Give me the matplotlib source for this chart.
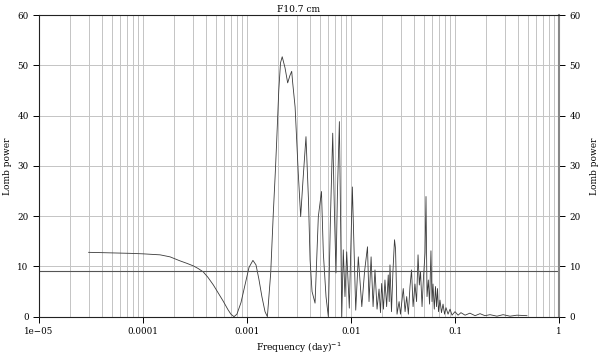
import numpy as np
import matplotlib
matplotlib.use('Agg')
import matplotlib.pyplot as plt
from matplotlib.ticker import LogLocator, FixedLocator, FixedFormatter, NullFormatter

plt.rcParams['font.family'] = 'DejaVu Serif'

# Periodograma de Lomb (frequencia em 1/dia, potencia)
freq = [3.0e-5, 4.82e-5, 7.5e-5, 1.0e-4, 1.46e-4, 1.82e-4, 2.27e-4, 2.65e-4, 3.05e-4, 3.38e-4,
        3.8e-4, 4.22e-4, 4.75e-4, 5.26e-4, 5.9e-4, 6.56e-4, 7.0e-4, 7.5e-4, 8.0e-4, 8.75e-4,
        9.57e-4, 1.045e-3, 1.14e-3, 1.22e-3, 1.30e-3, 1.39e-3, 1.49e-3, 1.57e-3, 1.69e-3, 1.79e-3,
        1.87e-3, 1.93e-3, 2.02e-3, 2.10e-3, 2.18e-3, 2.32e-3, 2.46e-3, 2.59e-3, 2.69e-3, 2.75e-3,
        2.90e-3, 3.11e-3, 3.28e-3, 3.45e-3, 3.69e-3, 3.90e-3, 4.04e-3, 4.22e-3, 4.51e-3, 4.85e-3,
        5.2e-3, 5.42e-3, 5.75e-3, 6.05e-3, 6.35e-3, 6.67e-3, 6.94e-3, 7.17e-3, 7.41e-3, 7.73e-3,
        7.93e-3, 8.15e-3, 8.43e-3, 8.75e-3, 9.09e-3, 9.63e-3, 1.03e-2, 1.11e-2, 1.175e-2, 1.27e-2,
        1.35e-2, 1.44e-2, 1.49e-2, 1.56e-2, 1.63e-2, 1.70e-2, 1.78e-2, 1.86e-2, 1.92e-2, 1.97e-2,
        2.05e-2, 2.12e-2, 2.20e-2, 2.28e-2, 2.33e-2, 2.37e-2, 2.45e-2, 2.53e-2, 2.62e-2, 2.68e-2,
        2.77e-2, 2.90e-2, 2.99e-2, 3.18e-2, 3.31e-2, 3.43e-2, 3.56e-2, 3.69e-2, 3.82e-2, 3.95e-2,
        4.12e-2, 4.27e-2, 4.41e-2, 4.54e-2, 4.66e-2, 4.82e-2, 4.98e-2, 5.15e-2, 5.26e-2, 5.38e-2,
        5.54e-2, 5.69e-2, 5.87e-2, 6.01e-2, 6.14e-2, 6.32e-2, 6.49e-2, 6.64e-2, 6.79e-2, 6.94e-2,
        7.17e-2, 7.41e-2, 7.67e-2, 7.93e-2, 8.19e-2, 8.57e-2, 8.96e-2, 9.36e-2, 0.100, 0.107,
        0.114, 0.125, 0.139, 0.156, 0.174, 0.194, 0.217, 0.253, 0.290, 0.338,
        0.394, 0.492]
potencia = [12.8, 12.7, 12.6, 12.5, 12.3, 11.9, 11.1, 10.6, 10.1, 9.6,
            8.9, 7.8, 6.3, 4.8, 3.1, 1.4, 0.5, 0.0, 0.5, 2.8,
            6.3, 9.8, 11.2, 10.3, 7.5, 4.0, 1.0, 0.0, 8.7, 20.6,
            28.6, 35.0, 45.0, 50.5, 51.7, 49.5, 46.5, 48.0, 48.8, 46.5,
            41.7, 28.6, 19.9, 27.0, 35.8, 23.2, 11.3, 5.0, 2.7, 19.9,
            24.9, 12.6, 4.0, 0.0, 20.0, 36.5, 20.0, 8.7, 25.0, 38.8,
            20.0, 0.0, 13.3, 4.0, 12.9, 1.7, 25.8, 1.3, 11.9, 2.0,
            9.0, 13.9, 3.0, 11.9, 2.0, 9.3, 1.5, 5.5, 0.8, 6.6,
            1.5, 7.3, 2.0, 8.3, 3.0, 10.3, 1.0, 9.0, 15.3, 13.5,
            0.5, 3.0, 0.5, 5.6, 1.0, 4.0, 0.5, 6.0, 9.3, 2.0,
            6.5, 3.0, 12.3, 6.3, 9.0, 2.0, 8.0, 12.7, 23.9, 4.0,
            7.3, 2.5, 13.1, 3.0, 6.5, 1.5, 6.0, 2.0, 5.6, 1.0,
            3.3, 0.8, 2.5, 0.5, 1.8, 0.5, 1.5, 0.3, 1.0, 0.3,
            0.8, 0.3, 0.7, 0.2, 0.6, 0.2, 0.4, 0.1, 0.4, 0.1,
            0.3, 0.2]

nivel_signif = 9.1
xticks = [1e-5, 1e-4, 1e-3, 1e-2, 1e-1, 1]
xtick_labels = ['1e\u221205', '0.0001', '0.001', '0.01', '0.1', '1']
yticks = [0, 10, 20, 30, 40, 50, 60]

fig = plt.figure(figsize=(6, 3.54), dpi=100)
ax = fig.add_axes([0.065, 0.1054, 0.8667, 0.8522])

ax.set_xscale('log')
ax.set_xlim(1e-5, 1)
ax.set_ylim(0, 60)

# grade
ax.xaxis.set_major_locator(FixedLocator(xticks))
ax.xaxis.set_major_formatter(FixedFormatter(xtick_labels))
ax.xaxis.set_minor_locator(LogLocator(base=10, subs=np.arange(2, 10)))
ax.xaxis.set_minor_formatter(NullFormatter())
ax.set_yticks(yticks)
ax.grid(True, which='both', axis='x', color='#c4c4c4', linewidth=0.7)
ax.grid(True, which='major', axis='y', color='#c4c4c4', linewidth=0.7)
ax.set_axisbelow(True)

ax.plot(freq, potencia, color='#3a3a3a', linewidth=0.6)
ax.axhline(nivel_signif, color='#555555', linewidth=0.8)

for lado in ['left', 'bottom', 'top']:
    ax.spines[lado].set_linewidth(0.8)
    ax.spines[lado].set_color('#222222')
ax.spines['right'].set_linewidth(1.5)
ax.spines['right'].set_color('#888888')

ax.set_title('F10.7 cm', fontsize=6.5, pad=2)
ax.set_xlabel('Frequency (day)$^{-1}$', fontsize=6.5, labelpad=3)
ax.set_ylabel('Lomb power', fontsize=6.5, labelpad=4)

# eixo da direita so para o rotulo
ax2 = ax.twinx()
ax2.set_ylim(0, 60)
ax2.set_yticks([])
ax2.spines[:].set_visible(False)
ax2.set_ylabel('Lomb power', fontsize=6.5, labelpad=22)

ax.tick_params(axis='x', which='minor', length=0)
ax.tick_params(axis='both', which='major', labelsize=6.3, length=4, width=0.7, direction='out')
ax.tick_params(axis='y', left=True, right=True, labelleft=True, labelright=True)

fig.savefig('out.png', dpi=100)
